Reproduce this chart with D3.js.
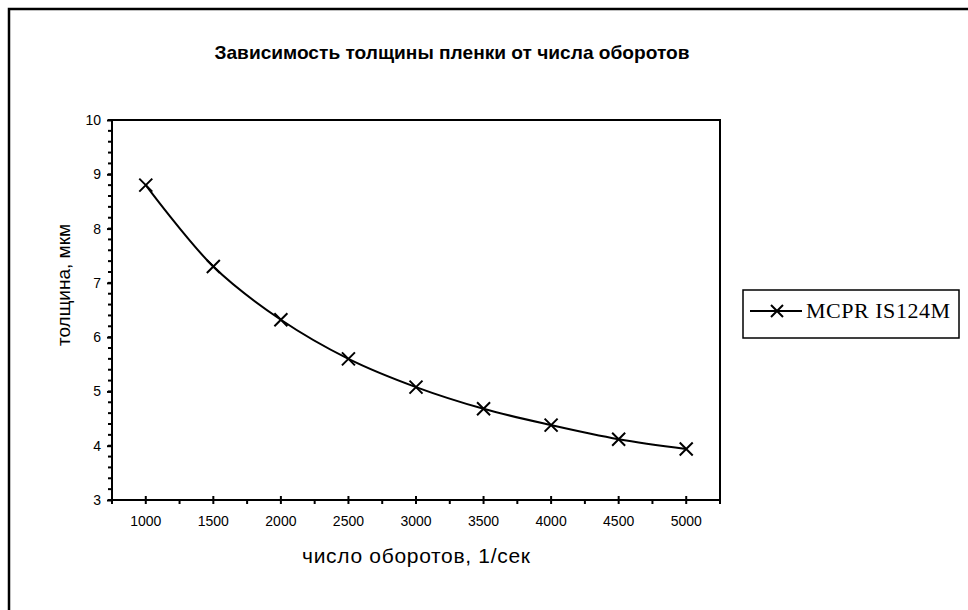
<!DOCTYPE html>
<html>
<head>
<meta charset="utf-8">
<script src="https://cdn.jsdelivr.net/npm/d3@7/dist/d3.min.js"></script>
<style>
  body { margin: 0; background: #fff; }
  svg { display: block; }
</style>
</head>
<body>
<svg id="chart" width="968" height="610"></svg>
<script>
// data
const speeds = ['1000', '1500', '2000', '2500', '3000', '3500', '4000', '4500', '5000'];
const thickness = [8.8, 7.3, 6.32, 5.6, 5.08, 4.68, 4.38, 4.12, 3.94];
const yTicks = [3, 4, 5, 6, 7, 8, 9, 10];
const seriesName = 'MCPR IS124M';

const svg = d3.select('#chart');
const plot = { left: 112, top: 120, right: 720, bottom: 500 };

// outer frame (its right and bottom edges run off the picture)
svg.append('rect')
    .attr('x', 9).attr('y', 9)
    .attr('width', 1000).attr('height', 1000)
    .attr('fill', 'none').attr('stroke', '#000').attr('stroke-width', 2.5);

svg.append('text')
    .attr('x', 452).attr('y', 59)
    .attr('text-anchor', 'middle')
    .attr('textLength', 475).attr('lengthAdjust', 'spacingAndGlyphs')
    .style('font', 'bold 18.5px "Liberation Sans", Arial, sans-serif')
    .text('Зависимость толщины пленки от числа оборотов');

const x = d3.scaleBand().domain(speeds).range([plot.left, plot.right]);
const y = d3.scaleLinear().domain([3, 10]).range([plot.bottom, plot.top]);

// plot box
svg.append('rect')
    .attr('x', plot.left).attr('y', plot.top)
    .attr('width', plot.right - plot.left).attr('height', plot.bottom - plot.top)
    .attr('fill', 'none').attr('stroke', '#000').attr('stroke-width', 2);

// y axis: major + minor ticks
const yMinor = d3.range(3, 10.001, 0.2);
svg.append('g').selectAll('line')
    .data(yMinor)
    .join('line')
    .attr('x1', plot.left - 4).attr('x2', plot.left)
    .attr('y1', d => y(d)).attr('y2', d => y(d))
    .attr('stroke', '#000').attr('stroke-width', 2);

const yAxis = d3.axisLeft(y).tickValues(yTicks).tickFormat(d3.format('d')).tickSize(5).tickPadding(6);
const gy = svg.append('g').attr('transform', `translate(${plot.left},0)`).call(yAxis);
gy.select('.domain').remove();
gy.selectAll('.tick line').attr('stroke-width', 2);
gy.selectAll('.tick text')
    .style('font', '14px "Liberation Sans", Arial, sans-serif')
    .attr('fill', '#000');

// x axis: ticks at category centres (cross) and at boundaries (outside)
const bounds = speeds.map(s => x(s)).concat([plot.right]);
svg.append('g').selectAll('line')
    .data(bounds)
    .join('line')
    .attr('x1', d => d).attr('x2', d => d)
    .attr('y1', plot.bottom).attr('y2', plot.bottom + 4)
    .attr('stroke', '#000').attr('stroke-width', 2);

const xAxis = d3.axisBottom(x).tickSizeInner(4).tickSizeOuter(0).tickPadding(12);
const gx = svg.append('g').attr('transform', `translate(0,${plot.bottom})`).call(xAxis);
gx.select('.domain').remove();
gx.selectAll('.tick line').attr('y1', -4).attr('stroke-width', 2);
gx.selectAll('.tick text')
    .style('font', '14px "Liberation Sans", Arial, sans-serif')
    .attr('fill', '#000');

// axis titles
svg.append('text')
    .attr('transform', 'translate(70,285) rotate(-90)')
    .attr('text-anchor', 'middle')
    .style('font', '19px "Liberation Sans", Arial, sans-serif')
    .text('толщина, мкм');

svg.append('text')
    .attr('x', 416).attr('y', 563)
    .attr('text-anchor', 'middle')
    .attr('textLength', 228).attr('lengthAdjust', 'spacing')
    .style('font', '21px "Liberation Sans", Arial, sans-serif')
    .text('число оборотов, 1/сек');

// series
const cx = (d, i) => x(speeds[i]) + x.bandwidth() / 2;
const line = d3.line()
    .x(cx)
    .y(d => y(d))
    .curve(d3.curveCatmullRom.alpha(0.5));

svg.append('path')
    .datum(thickness)
    .attr('d', line)
    .attr('fill', 'none').attr('stroke', '#000').attr('stroke-width', 2);

const crossPath = s => `M${-s},${-s}L${s},${s}M${-s},${s}L${s},${-s}`;

svg.append('g').selectAll('path')
    .data(thickness)
    .join('path')
    .attr('transform', (d, i) => `translate(${cx(d, i)},${y(d)})`)
    .attr('d', crossPath(6.5))
    .attr('stroke', '#000').attr('stroke-width', 2);

// legend
const legend = svg.append('g');
legend.append('rect')
    .attr('x', 743).attr('y', 290).attr('width', 216).attr('height', 48)
    .attr('fill', '#fff').attr('stroke', '#000').attr('stroke-width', 1.5);
legend.append('line')
    .attr('x1', 750).attr('x2', 802).attr('y1', 311).attr('y2', 311)
    .attr('stroke', '#000').attr('stroke-width', 2);
legend.append('path')
    .attr('transform', 'translate(777,311)')
    .attr('d', crossPath(6))
    .attr('stroke', '#000').attr('stroke-width', 2);
legend.append('text')
    .attr('x', 806).attr('y', 318)
    .attr('textLength', 144).attr('lengthAdjust', 'spacing')
    .style('font', '22px "Liberation Serif", "Times New Roman", serif')
    .text(seriesName);
</script>
</body>
</html>
